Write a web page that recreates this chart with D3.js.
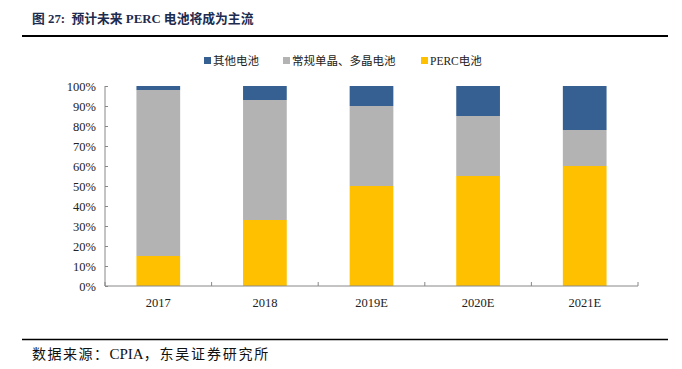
<!DOCTYPE html>
<html><head><meta charset="utf-8">
<script src="https://cdn.jsdelivr.net/npm/d3@7"></script>
<style>body{margin:0;background:#fff}svg{display:block}</style>
</head><body>
<svg id="c" width="682" height="369"></svg>
<script>
const categories = ["2017", "2018", "2019E", "2020E", "2021E"];
const perc = [15, 33, 50, 55, 60];
const mono = [83, 60, 40, 30, 18];
const other = [2, 7, 10, 15, 22];
const seriesNames = ["PERC电池", "常规单晶、多晶电池", "其他电池"];
const yTicks = [0,10,20,30,40,50,60,70,80,90,100];

const colors = {"PERC电池":"#ffc000","常规单晶、多晶电池":"#b3b3b3","其他电池":"#366092"};
const svg = d3.select("#c");
const serif = "'Liberation Serif','Times New Roman','Noto Sans CJK SC',serif";
const cjk = "'Liberation Serif','Noto Sans CJK SC',sans-serif";

// title
svg.append("text").attr("x",32).attr("y",23).attr("font-family",cjk).attr("font-weight","bold")
  .attr("font-size",12.8).attr("fill","#1d2b4f").attr("xml:space","preserve")
  .text("图 27:  预计未来 PERC 电池将成为主流");
svg.append("line").attr("x1",22).attr("x2",668).attr("y1",36).attr("y2",36).attr("stroke","#000").attr("stroke-width",2);

const x = d3.scaleBand().domain(categories).range([105,638]).padding(0);
const y = d3.scaleLinear().domain([0,100]).range([286,86]);
const bw = x.bandwidth()*0.41;

const rows = categories.map((c,i)=>({cat:c,"PERC电池":perc[i],"常规单晶、多晶电池":mono[i],"其他电池":other[i]}));
const stack = d3.stack().keys(seriesNames)(rows);

svg.append("g").selectAll("g").data(stack).join("g").attr("fill",d=>colors[d.key])
  .selectAll("rect").data(d=>d).join("rect")
  .attr("x",d=>x(d.data.cat)+(x.bandwidth()-bw)/2).attr("width",bw)
  .attr("y",d=>y(d[1])).attr("height",d=>y(d[0])-y(d[1]));

// y axis
const ya = svg.append("g").attr("transform","translate(105,0)")
  .call(d3.axisRight(y).tickValues(yTicks).tickSize(3).tickFormat(""));
ya.select(".domain").attr("stroke","#888").attr("d","M0,86V286");
ya.selectAll(".tick line").attr("stroke","#888");
svg.append("g").selectAll("text").data(yTicks).join("text")
  .attr("x",96).attr("y",d=>y(d)+4.5).attr("text-anchor","end")
  .attr("font-family",serif).attr("font-size",12.5).attr("fill","#222").text(d=>d+"%");

// x axis
const xa = svg.append("g").attr("transform","translate(0,286)")
  .call(d3.axisBottom(x).tickSize(0).tickFormat(""));
xa.select(".domain").attr("stroke","#888").attr("d","M105,0H638");
xa.selectAll(".tick").remove();
svg.append("g").selectAll("line").data(categories.concat(["_end"])).join("line")
  .attr("x1",(d,i)=>i<categories.length?x(d):x.range()[1]).attr("x2",(d,i)=>i<categories.length?x(d):x.range()[1])
  .attr("y1",286).attr("y2",282).attr("stroke","#888");
svg.append("g").selectAll("text").data(categories).join("text")
  .attr("x",d=>x(d)+x.bandwidth()/2).attr("y",307).attr("text-anchor","middle")
  .attr("font-family",serif).attr("font-size",12.5).attr("fill","#222").text(d=>d);

// legend
const legendItems = [["其他电池",204],["常规单晶、多晶电池",283],["PERC电池",421]];
const lg = svg.append("g");
legendItems.forEach(([k,lx])=>{
  lg.append("rect").attr("x",lx).attr("y",57).attr("width",7).attr("height",7).attr("fill",colors[k]);
  lg.append("text").attr("x",lx+9).attr("y",64.5).attr("font-family",cjk).attr("font-size",11.5).attr("fill","#222").text(k);
});

// source
svg.append("line").attr("x1",22).attr("x2",668).attr("y1",339.5).attr("y2",339.5).attr("stroke","#000").attr("stroke-width",1.5);
const src = svg.append("text").attr("x",32).attr("y",359).attr("font-family",cjk).attr("font-size",14).attr("fill","#111");
src.append("tspan").attr("letter-spacing",1.5).text("数据来源：");
src.append("tspan").attr("font-size",15).text("CPIA");
src.append("tspan").attr("letter-spacing",1.8).text("，东吴证券研究所");
</script>
</body></html>
